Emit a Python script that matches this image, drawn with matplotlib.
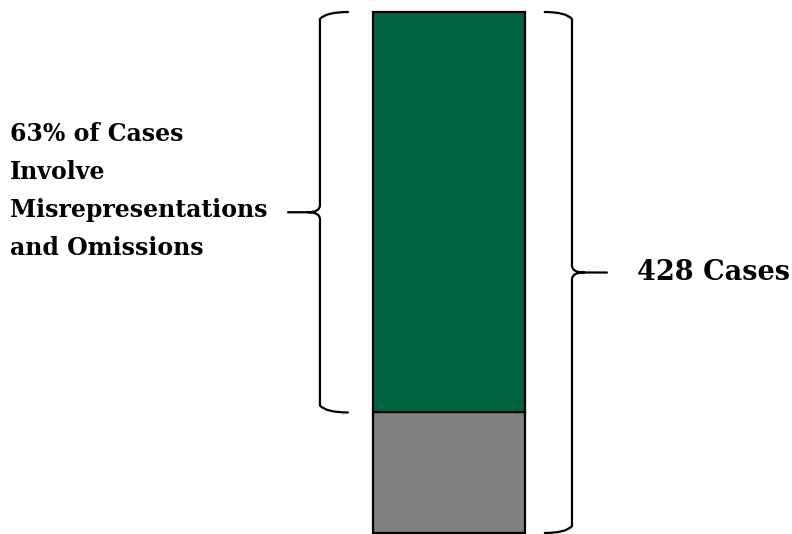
import numpy as np
import matplotlib
matplotlib.use("Agg")
from matplotlib import pyplot as plt
from matplotlib.path import Path
from matplotlib.patches import PathPatch
from matplotlib.transforms import blended_transform_factory

# Data (segment heights)
segments = ["Other cases", "Misrepresentations and Omissions"]
case_counts = [99, 329]
colors = ["#808080", "#006341"]
total_cases = sum(case_counts)
left_label = "63% of Cases\nInvolve\nMisrepresentations\nand Omissions"
right_label = "428 Cases"

plt.rcParams["font.family"] = ["DejaVu Serif"]

fig = plt.figure(figsize=(7.92, 5.34), dpi=100)
ax = fig.add_axes([373 / 792, 1 / 534, 152 / 792, 521 / 534])
ax.set_xlim(-0.5, 0.5)
ax.set_ylim(0, total_cases)
ax.axis("off")

bottom = 0
for name, val, col in zip(segments, case_counts, colors):
    ax.bar(0, val, width=1.0, bottom=bottom, color=col, edgecolor="black",
           linewidth=1.6, clip_on=False)
    bottom += val

# pixels -> data units in y
px_y = total_cases / 521.0


def draw_brace(ax, x_v, x_hook, x_tip, y0, y1, y_mid):
    # x in axes fraction, y in data units
    trans = blended_transform_factory(ax.transAxes, ax.transData)
    r = 7 * px_y
    s = np.sign(x_tip - x_v)
    d = 12 / 152.0 * s
    c = 6 / 152.0 * -s
    verts = [
        (x_hook, y1), (x_v + c, y1), (x_v, y1 - r),
        (x_v, y_mid + r), (x_v, y_mid), (x_v + d, y_mid),
        (x_tip, y_mid),
        (x_v + d, y_mid), (x_v, y_mid), (x_v, y_mid - r),
        (x_v, y0 + r), (x_v + c, y0), (x_hook, y0),
    ]
    codes = [
        Path.MOVETO, Path.CURVE3, Path.CURVE3,
        Path.LINETO, Path.CURVE3, Path.CURVE3,
        Path.LINETO,
        Path.MOVETO, Path.CURVE3, Path.CURVE3,
        Path.LINETO, Path.CURVE3, Path.CURVE3,
    ]
    patch = PathPatch(Path(verts, codes), fill=False, edgecolor="black",
                      linewidth=1.6, transform=trans, clip_on=False,
                      capstyle="round", joinstyle="round")
    ax.add_patch(patch)


# left brace spans the green part, right brace spans the whole bar
draw_brace(ax, -0.349, -0.165, -0.559, case_counts[0], total_cases,
           case_counts[0] + case_counts[1] / 2)
draw_brace(ax, 1.309, 1.13, 1.539, 0, total_cases, total_cases / 2)

fig.text(10 / 792, 1 - 191 / 534, left_label, fontsize=17, fontweight="bold",
         ha="left", va="center", linespacing=1.75)
fig.text(637 / 792, 1 - 273 / 534, right_label, fontsize=19.5, fontweight="bold",
         ha="left", va="center")

fig.savefig("out.png", dpi=100)
